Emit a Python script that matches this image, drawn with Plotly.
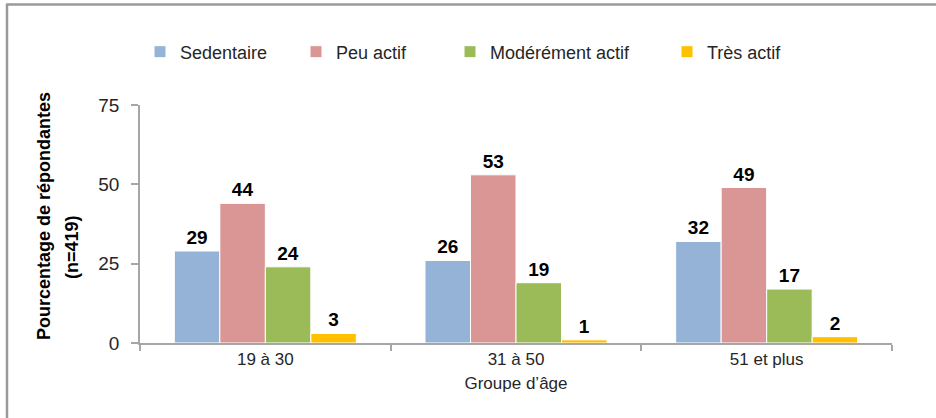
import plotly.graph_objects as go

categories = ["19 à 30", "31 à 50", "51 et plus"]
series_names = ["Sedentaire", "Peu actif", "Modérément actif", "Très actif"]
sedentaire = [29, 26, 32]
peu_actif = [44, 53, 49]
modere_actif = [24, 19, 17]
tres_actif = [3, 1, 2]
y_ticks = [0, 25, 50, 75]

colors = ["#95B3D7", "#D99694", "#9BBB59", "#FFC000"]
legend_widths = [111, 109, 172, 80]
values = [sedentaire, peu_actif, modere_actif, tres_actif]

FONT = "Liberation Sans, Arial, Helvetica, sans-serif"
AXIS = "#A6A6A6"

fig = go.Figure()
for name, vals, col, lw in zip(series_names, values, colors, legend_widths):
    fig.add_trace(go.Bar(
        x=categories, y=vals, name=name,
        marker=dict(color=col, line=dict(color="white", width=1)),
        text=vals, texttemplate="%{text}", textposition="outside",
        textfont=dict(family=FONT, size=19, color="#000000", weight="bold"),
        cliponaxis=False, legendwidth=lw,
    ))

# px -> paper helpers (plot area: x 140..892, y 105..343)
def px_x(p):
    return (p - 140) / 752.0

def px_y(p):
    return (343 - p) / 238.0

fig.update_layout(
    width=936, height=418,
    margin=dict(l=140, r=44, t=105, b=75),
    paper_bgcolor="white", plot_bgcolor="white",
    barmode="group", bargap=0.274, bargroupgap=0,
    font=dict(family=FONT, color="#262626"),
    showlegend=True,
    legend=dict(
        orientation="h", xanchor="left", x=px_x(140), yanchor="middle", y=px_y(52),
        font=dict(family=FONT, size=18, color="#262626"),
        bgcolor="rgba(0,0,0,0)", entrywidthmode="pixels",
    ),
    xaxis=dict(
        showline=True, linecolor=AXIS, linewidth=1.5,
        ticks="outside", tickson="boundaries", ticklen=6, tickcolor=AXIS, tickwidth=1.5,
        tickfont=dict(family=FONT, size=17, color="#262626"),
        showgrid=False,
        title=dict(text="Groupe d’âge", font=dict(family=FONT, size=17, color="#262626"), standoff=9),
    ),
    yaxis=dict(
        range=[0, 75], tickvals=y_ticks,
        showline=True, linecolor=AXIS, linewidth=1.5,
        ticks="outside", ticklen=7, tickcolor=AXIS, tickwidth=1.5,
        tickfont=dict(family=FONT, size=19, color="#262626"),
        ticklabelstandoff=8,
        showgrid=False, zeroline=False,
    ),
    annotations=[
        dict(text="<b>Pourcentage de répondantes</b>", textangle=-90,
             xref="paper", yref="paper", x=px_x(44), y=px_y(216),
             xanchor="center", yanchor="middle", showarrow=False,
             font=dict(family=FONT, size=18, color="#000000")),
        dict(text="<b>(n=419)</b>", textangle=-90,
             xref="paper", yref="paper", x=px_x(72), y=px_y(247),
             xanchor="center", yanchor="middle", showarrow=False,
             font=dict(family=FONT, size=18, color="#000000")),
    ],
    shapes=[
        dict(type="line", xref="paper", yref="paper",
             x0=px_x(7), x1=px_x(7), y0=px_y(4), y1=px_y(430),
             line=dict(color="#9A9A9A", width=2.5)),
        dict(type="line", xref="paper", yref="paper",
             x0=px_x(6), x1=px_x(950), y0=px_y(4.5), y1=px_y(4.5),
             line=dict(color="#9A9A9A", width=2.5)),
    ],
)

fig.write_html("out.html")
